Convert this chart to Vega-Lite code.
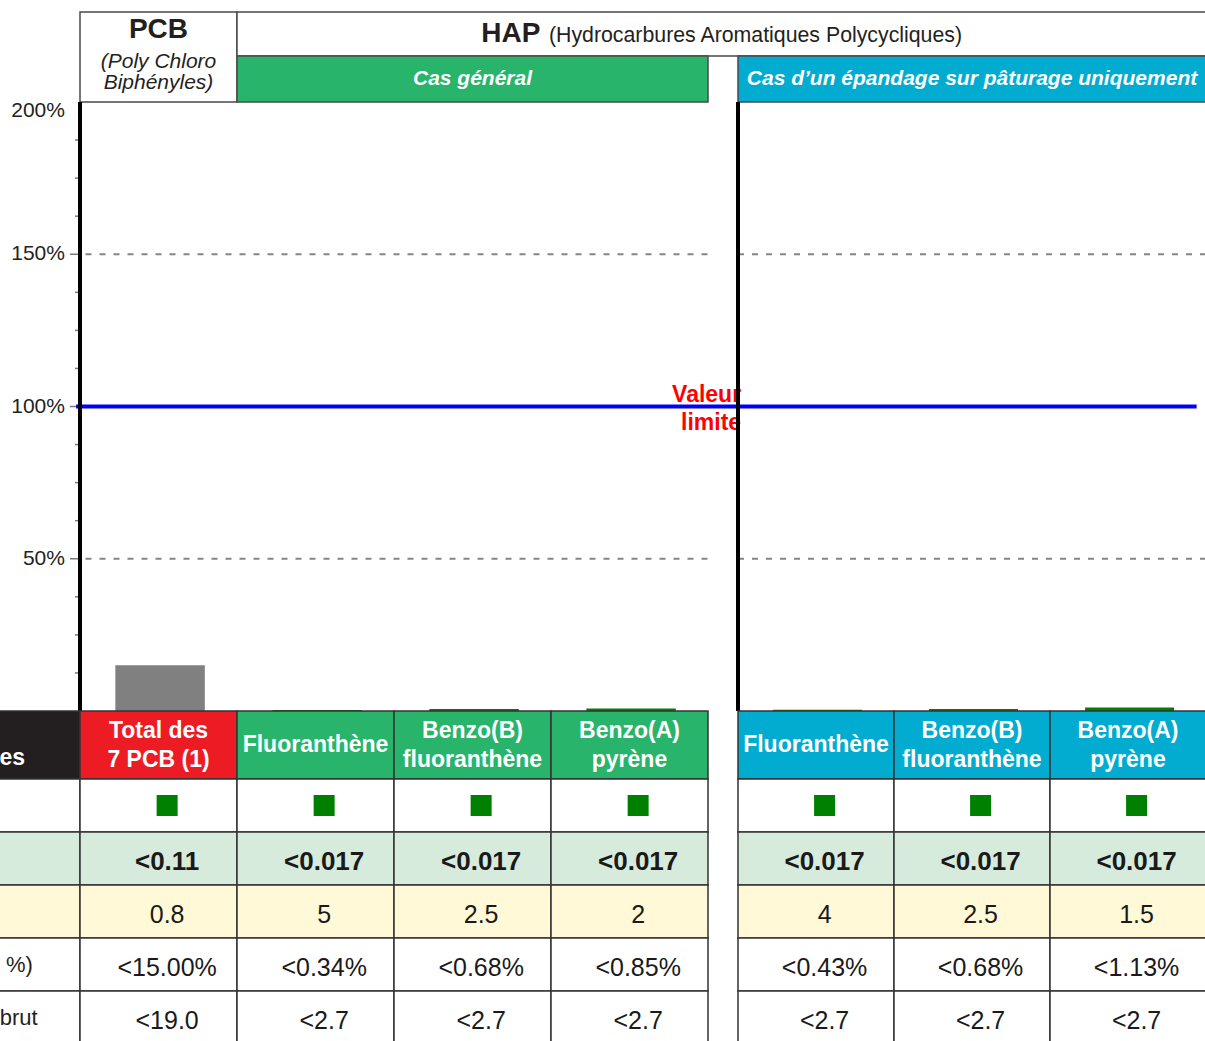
{
  "$schema": "https://vega.github.io/schema/vega-lite/v6.json",
  "width": 1125,
  "height": 1041,
  "autosize": "none",
  "padding": {"left": 80, "top": 0, "right": 0, "bottom": 0},
  "background": "white",
  "config": {"view": {"stroke": null}, "font": "Liberation Sans"},
  "datasets": {
    "ticks": [
      {"v": 12.5}, {"v": 25}, {"v": 37.5}, {"v": 50}, {"v": 62.5}, {"v": 75}, {"v": 87.5}, {"v": 100},
      {"v": 112.5}, {"v": 125}, {"v": 137.5}, {"v": 150}, {"v": 162.5}, {"v": 175}, {"v": 187.5}, {"v": 200}
    ],
    "header": [
      {"box": "PCB", "c0": 0, "c1": 1, "l0": 200, "l1": 202, "kind": "blanc"},
      {"box": "HAP", "c0": 1, "c1": 8, "l0": 201, "l1": 202, "kind": "blanc"},
      {"box": "Cas général", "c0": 1, "c1": 4, "l0": 200, "l1": 201, "kind": "général"},
      {"box": "Cas pâturage", "c0": 5, "c1": 8, "l0": 200, "l1": 201, "kind": "pâturage"}
    ],
    "substances": [
      {"c": 0, "grp": "PCB", "nom": "Total des 7 PCB", "pct": 15.0},
      {"c": 1, "grp": "général", "nom": "Fluoranthène", "pct": 0.34},
      {"c": 2, "grp": "général", "nom": "Benzo(B) fluoranthène", "pct": 0.68},
      {"c": 3, "grp": "général", "nom": "Benzo(A) pyrène", "pct": 0.85},
      {"c": 5, "grp": "pâturage", "nom": "Fluoranthène", "pct": 0.43},
      {"c": 6, "grp": "pâturage", "nom": "Benzo(B) fluoranthène", "pct": 0.68},
      {"c": 7, "grp": "pâturage", "nom": "Benzo(A) pyrène", "pct": 1.13}
    ],
    "cells": [
      {"c": -1, "r": 1, "bg": "label", "t": ""},
      {"c": -1, "r": 2, "bg": "blanc", "t": ""},
      {"c": -1, "r": 3, "bg": "mesure", "t": ""},
      {"c": -1, "r": 4, "bg": "limite", "t": ""},
      {"c": -1, "r": 5, "bg": "blanc", "t": ""},
      {"c": -1, "r": 6, "bg": "blanc", "t": ""},
      {"c": 0, "r": 1, "bg": "PCB", "t": "Total des\n7 PCB (1)"},
      {"c": 0, "r": 2, "bg": "blanc", "t": "ok"},
      {"c": 0, "r": 3, "bg": "mesure", "t": "<0.11"},
      {"c": 0, "r": 4, "bg": "limite", "t": "0.8"},
      {"c": 0, "r": 5, "bg": "blanc", "t": "<15.00%"},
      {"c": 0, "r": 6, "bg": "blanc", "t": "<19.0"},
      {"c": 1, "r": 1, "bg": "général", "t": "Fluoranthène"},
      {"c": 1, "r": 2, "bg": "blanc", "t": "ok"},
      {"c": 1, "r": 3, "bg": "mesure", "t": "<0.017"},
      {"c": 1, "r": 4, "bg": "limite", "t": "5"},
      {"c": 1, "r": 5, "bg": "blanc", "t": "<0.34%"},
      {"c": 1, "r": 6, "bg": "blanc", "t": "<2.7"},
      {"c": 2, "r": 1, "bg": "général", "t": "Benzo(B)\nfluoranthène"},
      {"c": 2, "r": 2, "bg": "blanc", "t": "ok"},
      {"c": 2, "r": 3, "bg": "mesure", "t": "<0.017"},
      {"c": 2, "r": 4, "bg": "limite", "t": "2.5"},
      {"c": 2, "r": 5, "bg": "blanc", "t": "<0.68%"},
      {"c": 2, "r": 6, "bg": "blanc", "t": "<2.7"},
      {"c": 3, "r": 1, "bg": "général", "t": "Benzo(A)\npyrène"},
      {"c": 3, "r": 2, "bg": "blanc", "t": "ok"},
      {"c": 3, "r": 3, "bg": "mesure", "t": "<0.017"},
      {"c": 3, "r": 4, "bg": "limite", "t": "2"},
      {"c": 3, "r": 5, "bg": "blanc", "t": "<0.85%"},
      {"c": 3, "r": 6, "bg": "blanc", "t": "<2.7"},
      {"c": 5, "r": 1, "bg": "pâturage", "t": "Fluoranthène"},
      {"c": 5, "r": 2, "bg": "blanc", "t": "ok"},
      {"c": 5, "r": 3, "bg": "mesure", "t": "<0.017"},
      {"c": 5, "r": 4, "bg": "limite", "t": "4"},
      {"c": 5, "r": 5, "bg": "blanc", "t": "<0.43%"},
      {"c": 5, "r": 6, "bg": "blanc", "t": "<2.7"},
      {"c": 6, "r": 1, "bg": "pâturage", "t": "Benzo(B)\nfluoranthène"},
      {"c": 6, "r": 2, "bg": "blanc", "t": "ok"},
      {"c": 6, "r": 3, "bg": "mesure", "t": "<0.017"},
      {"c": 6, "r": 4, "bg": "limite", "t": "2.5"},
      {"c": 6, "r": 5, "bg": "blanc", "t": "<0.68%"},
      {"c": 6, "r": 6, "bg": "blanc", "t": "<2.7"},
      {"c": 7, "r": 1, "bg": "pâturage", "t": "Benzo(A)\npyrène"},
      {"c": 7, "r": 2, "bg": "blanc", "t": "ok"},
      {"c": 7, "r": 3, "bg": "mesure", "t": "<0.017"},
      {"c": 7, "r": 4, "bg": "limite", "t": "1.5"},
      {"c": 7, "r": 5, "bg": "blanc", "t": "<1.13%"},
      {"c": 7, "r": 6, "bg": "blanc", "t": "<2.7"}
    ]
  },
  "layer": [
    {
      "data": {"values": [{"v": 50}, {"v": 150}]},
      "mark": {"type": "rule", "stroke": "#858585", "strokeWidth": 2, "strokeDash": [6, 8]},
      "encoding": {
        "x": {"datum": 0.035, "type": "quantitative", "axis": null,
          "scale": {"type": "linear", "domain": [-1, 0, 4, 5, 8], "range": [-157, 0, 628, 658, 1126], "nice": false, "zero": false}},
        "x2": {"datum": 4},
        "y": {"field": "v", "type": "quantitative", "axis": null,
          "scale": {"type": "linear", "domain": [-6, -1, 0, 200, 201, 202], "range": [1044, 779, 711, 102, 56, 12], "nice": false, "zero": false}}
      }
    },
    {
      "data": {"values": [{"v": 50}, {"v": 150}]},
      "mark": {"type": "rule", "stroke": "#858585", "strokeWidth": 2, "strokeDash": [6, 8]},
      "encoding": {
        "x": {"datum": 5, "type": "quantitative", "axis": null},
        "x2": {"datum": 8},
        "y": {"field": "v", "type": "quantitative", "axis": null}
      }
    },
    {
      "data": {"name": "ticks"},
      "transform": [{"filter": "datum.v % 50 !== 0"}],
      "mark": {"type": "rule", "stroke": "#7a7a7a", "strokeWidth": 1.5},
      "encoding": {
        "x": {"datum": -0.032, "type": "quantitative", "axis": null},
        "x2": {"datum": 0},
        "y": {"field": "v", "type": "quantitative", "axis": null}
      }
    },
    {
      "data": {"name": "ticks"},
      "transform": [{"filter": "datum.v % 50 === 0 && datum.v < 200"}],
      "mark": {"type": "rule", "stroke": "#7a7a7a", "strokeWidth": 1.5},
      "encoding": {
        "x": {"datum": -0.064, "type": "quantitative", "axis": null},
        "x2": {"datum": 0},
        "y": {"field": "v", "type": "quantitative", "axis": null}
      }
    },
    {
      "data": {"name": "ticks"},
      "transform": [
        {"filter": "datum.v % 50 === 0"},
        {"calculate": "datum.v + '%'", "as": "lbl"},
        {"calculate": "datum.v === 200 ? 197 : datum.v", "as": "lv"}
      ],
      "mark": {"type": "text", "fontSize": 21, "color": "#231f20", "align": "right"},
      "encoding": {
        "x": {"datum": -0.096, "type": "quantitative", "axis": null},
        "y": {"field": "lv", "type": "quantitative", "axis": null},
        "text": {"field": "lbl"}
      }
    },
    {
      "data": {"name": "header"},
      "mark": {"type": "rect", "stroke": "#4a4a4a", "strokeWidth": 1.5},
      "encoding": {
        "x": {"field": "c0", "type": "quantitative", "axis": null},
        "x2": {"field": "c1"},
        "y": {"field": "l0", "type": "quantitative", "axis": null},
        "y2": {"field": "l1"},
        "fill": {"field": "kind", "type": "nominal", "legend": null,
          "scale": {"domain": ["blanc", "général", "pâturage", "PCB", "label", "mesure", "limite"],
            "range": ["#ffffff", "#29b46b", "#02acd0", "#ed1c24", "#231f20", "#d6ebdc", "#fff9d7"]}}
      }
    },
    {
      "data": {"values": [{}]},
      "mark": {"type": "text", "text": "PCB", "fontSize": 28, "fontWeight": "bold", "color": "#231f20"},
      "encoding": {"x": {"datum": 0.5, "type": "quantitative", "axis": null}, "y": {"datum": 201.59, "type": "quantitative", "axis": null}}
    },
    {
      "data": {"values": [{}]},
      "mark": {"type": "text", "text": "(Poly Chloro\nBiphényles)", "lineBreak": "\n", "lineHeight": 21, "fontSize": 21, "fontStyle": "italic", "color": "#231f20"},
      "encoding": {"x": {"datum": 0.5, "type": "quantitative", "axis": null}, "y": {"datum": 200.87, "type": "quantitative", "axis": null}}
    },
    {
      "data": {"values": [{}]},
      "mark": {"type": "text", "text": "HAP", "fontSize": 28, "fontWeight": "bold", "color": "#231f20", "align": "right", "baseline": "alphabetic"},
      "encoding": {"x": {"datum": 2.932, "type": "quantitative", "axis": null}, "y": {"datum": 201.32, "type": "quantitative", "axis": null}}
    },
    {
      "data": {"values": [{}]},
      "mark": {"type": "text", "text": "(Hydrocarbures Aromatiques Polycycliques)", "fontSize": 21.3, "color": "#231f20", "align": "left", "baseline": "alphabetic"},
      "encoding": {"x": {"datum": 2.987, "type": "quantitative", "axis": null}, "y": {"datum": 201.32, "type": "quantitative", "axis": null}}
    },
    {
      "data": {"values": [{}]},
      "mark": {"type": "text", "text": "Cas général", "fontSize": 21, "fontWeight": "bold", "fontStyle": "italic", "color": "white"},
      "encoding": {"x": {"datum": 2.5, "type": "quantitative", "axis": null}, "y": {"datum": 200.5, "type": "quantitative", "axis": null}}
    },
    {
      "data": {"values": [{}]},
      "mark": {"type": "text", "text": "Cas d’un épandage sur pâturage uniquement", "fontSize": 21, "fontWeight": "bold", "fontStyle": "italic", "color": "white"},
      "encoding": {"x": {"datum": 6.5, "type": "quantitative", "axis": null}, "y": {"datum": 200.5, "type": "quantitative", "axis": null}}
    },
    {
      "data": {"values": [{}]},
      "mark": {"type": "rule", "stroke": "#0000ff", "strokeWidth": 4},
      "encoding": {
        "x": {"datum": -0.025, "type": "quantitative", "axis": null},
        "x2": {"datum": 7.94},
        "y": {"datum": 100, "type": "quantitative", "axis": null}
      }
    },
    {
      "data": {"values": [{}]},
      "mark": {"type": "text", "text": "Valeur\nlimite", "lineBreak": "\n", "lineHeight": 28, "fontSize": 23, "fontWeight": "bold", "color": "#ff0000", "align": "right"},
      "encoding": {"x": {"datum": 5.02, "type": "quantitative", "axis": null}, "y": {"datum": 103.8, "type": "quantitative", "axis": null}}
    },
    {
      "data": {"values": [{"c": 0}, {"c": 5}]},
      "mark": {"type": "rule", "stroke": "black", "strokeWidth": 4},
      "encoding": {
        "x": {"field": "c", "type": "quantitative", "axis": null},
        "y": {"datum": 0, "type": "quantitative", "axis": null},
        "y2": {"datum": 200}
      }
    },
    {
      "data": {"name": "substances"},
      "transform": [
        {"calculate": "datum.c + 0.225", "as": "bl"},
        {"calculate": "datum.c + 0.795", "as": "br"}
      ],
      "mark": {"type": "rect"},
      "encoding": {
        "x": {"field": "bl", "type": "quantitative", "axis": null},
        "x2": {"field": "br"},
        "y": {"field": "pct", "type": "quantitative", "axis": null},
        "y2": {"datum": 0},
        "color": {"field": "grp", "type": "nominal", "legend": null,
          "scale": {"domain": ["PCB", "général", "pâturage"], "range": ["#808080", "#008000", "#008000"]}}
      }
    },
    {
      "data": {"name": "cells"},
      "transform": [
        {"calculate": "datum.c + 1", "as": "c2"},
        {"calculate": "-datum.r", "as": "y0"},
        {"calculate": "1 - datum.r", "as": "y1"}
      ],
      "mark": {"type": "rect", "stroke": "#333333", "strokeWidth": 1.5},
      "encoding": {
        "x": {"field": "c", "type": "quantitative", "axis": null},
        "x2": {"field": "c2"},
        "y": {"field": "y0", "type": "quantitative", "axis": null},
        "y2": {"field": "y1"},
        "fill": {"field": "bg", "type": "nominal", "legend": null,
          "scale": {"domain": ["blanc", "général", "pâturage", "PCB", "label", "mesure", "limite"],
            "range": ["#ffffff", "#29b46b", "#02acd0", "#ed1c24", "#231f20", "#d6ebdc", "#fff9d7"]}}
      }
    },
    {
      "data": {"name": "cells"},
      "transform": [
        {"filter": "datum.r === 1 && datum.c >= 0"},
        {"calculate": "datum.c + 0.5", "as": "xc"},
        {"calculate": "indexof(datum.t, '\\n') >= 0 ? -0.287 : -0.5", "as": "yc"}
      ],
      "mark": {"type": "text", "lineBreak": "\n", "lineHeight": 29, "fontSize": 23, "fontWeight": "bold", "color": "white"},
      "encoding": {
        "x": {"field": "xc", "type": "quantitative", "axis": null},
        "y": {"field": "yc", "type": "quantitative", "axis": null},
        "text": {"field": "t"}
      }
    },
    {
      "data": {"name": "cells"},
      "transform": [
        {"filter": "datum.r === 2 && datum.c >= 0"},
        {"calculate": "datum.c + 0.555", "as": "xm"},
        {"calculate": "0.5 - datum.r", "as": "ym"}
      ],
      "mark": {"type": "point", "shape": "square", "filled": true, "size": 441, "color": "#008000", "opacity": 1},
      "encoding": {
        "x": {"field": "xm", "type": "quantitative", "axis": null},
        "y": {"field": "ym", "type": "quantitative", "axis": null}
      }
    },
    {
      "data": {"name": "cells"},
      "transform": [
        {"filter": "datum.r === 3 && datum.c >= 0"},
        {"calculate": "datum.c + 0.555", "as": "xm"},
        {"calculate": "0.5 - datum.r", "as": "ym"}
      ],
      "mark": {"type": "text", "fontSize": 26, "fontWeight": "bold", "color": "#1a1a1a", "dy": 3},
      "encoding": {
        "x": {"field": "xm", "type": "quantitative", "axis": null},
        "y": {"field": "ym", "type": "quantitative", "axis": null},
        "text": {"field": "t"}
      }
    },
    {
      "data": {"name": "cells"},
      "transform": [
        {"filter": "datum.r >= 4 && datum.c >= 0"},
        {"calculate": "datum.c + 0.555", "as": "xm"},
        {"calculate": "0.5 - datum.r", "as": "ym"}
      ],
      "mark": {"type": "text", "fontSize": 25, "color": "#1a1a1a", "dy": 3},
      "encoding": {
        "x": {"field": "xm", "type": "quantitative", "axis": null},
        "y": {"field": "ym", "type": "quantitative", "axis": null},
        "text": {"field": "t"}
      }
    },
    {
      "data": {"values": [{}]},
      "mark": {"type": "text", "text": "Paramètres", "fontSize": 23, "fontWeight": "bold", "color": "white", "align": "right"},
      "encoding": {"x": {"datum": -0.35, "type": "quantitative", "axis": null}, "y": {"datum": -0.69, "type": "quantitative", "axis": null}}
    },
    {
      "data": {"values": [{}]},
      "mark": {"type": "text", "text": "Flux apporté / flux limite (en %)", "fontSize": 22, "color": "#231f20", "align": "right"},
      "encoding": {"x": {"datum": -0.3, "type": "quantitative", "axis": null}, "y": {"datum": -4.5, "type": "quantitative", "axis": null}}
    },
    {
      "data": {"values": [{}]},
      "mark": {"type": "text", "text": "Teneur en mg/kg brut", "fontSize": 22, "color": "#231f20", "align": "right"},
      "encoding": {"x": {"datum": -0.27, "type": "quantitative", "axis": null}, "y": {"datum": -5.5, "type": "quantitative", "axis": null}}
    }
  ]
}
